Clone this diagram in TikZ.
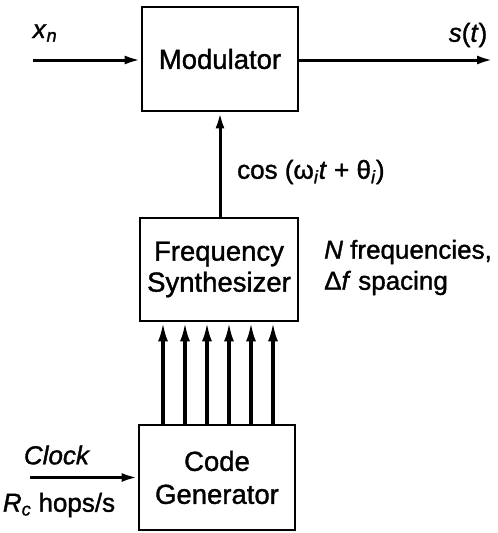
\documentclass[tikz,border=0pt]{standalone}
\usepackage{fontspec}
\setmainfont{Liberation Sans}
\newfontfamily\heavy[FakeBold=1.3]{Liberation Sans}
\usetikzlibrary{arrows.meta,calc}
\begin{document}
\begin{tikzpicture}[x=1pt,y=-1pt,
  blk/.style={draw,line width=2.8pt,inner sep=0pt,align=center,
    font=\heavy\fontsize{27.5}{31}\selectfont},
  lbl/.style={inner sep=0pt,font=\heavy\fontsize{26}{31}\selectfont},
  arr/.style={line width=3pt,-{Latex[length=16pt,width=9pt]}},
  arrb/.style={line width=3.2pt,-{Latex[length=19pt,width=10pt]}}]
\useasboundingbox (0,0) rectangle (498,533);
\node[blk,minimum width=156pt,minimum height=104pt] (mod) at (220,59) {Modulator};
\node[blk,minimum width=158pt,minimum height=103pt] (fs) at (219,269.5) {Frequency\\Synthesizer};
\node[blk,minimum width=156pt,minimum height=105pt,font=\heavy\fontsize{27.5}{33}\selectfont] (cg) at (217,477.5) {Code\\Generator};
\coordinate (xin) at (33,60);
\coordinate (sout) at (493,60);
\coordinate (clk) at (30,477.5);
\draw[arr] (xin) -- (xin -| mod.west);
\draw[arr] (sout -| mod.east) -- (sout);
\draw[arr] (fs.north -| mod.south) -- (mod.south);
\draw[arr] (clk) -- (cg.west);
\foreach \i/\x in {1/163,2/185,3/207,4/229,5/251,6/273}{
  \coordinate (c\i) at (\x,0);
  \draw[arrb] (c\i |- cg.north) -- (c\i |- fs.south);
}
\node[lbl] (lx) at (45,33) {\textit{x}\textsubscript{\textit{n}}};
\node[lbl] (ls) at (468,35) {\textit{s}(\textit{t})};
\node[lbl,anchor=west] (lc) at (237,172) {cos (ω\textsubscript{\textit{i}}\textit{t} + θ\textsubscript{\textit{i}})};
\node[lbl,anchor=west] (ln) at (324,252) {\textit{N} frequencies,};
\node[lbl,anchor=west] (ld) at (324,283) {Δ\textit{f} spacing};
\node[lbl] (lk) at (57,455) {\textit{Clock}};
\node[lbl] (lr) at (59,505) {\textit{R}\textsubscript{\textit{c}} hops/s};
\end{tikzpicture}
\end{document}
